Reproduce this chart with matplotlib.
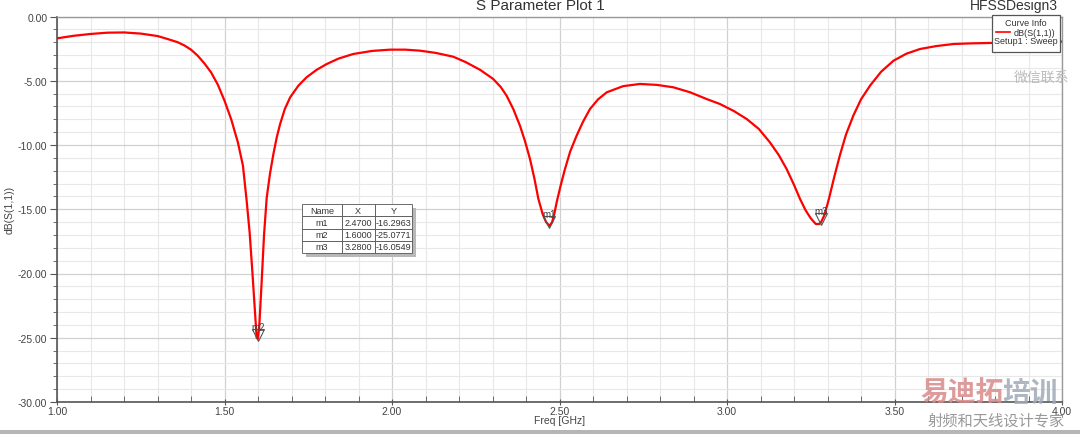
import matplotlib
matplotlib.use("Agg")
import matplotlib.pyplot as plt
import matplotlib.transforms as mtransforms
from matplotlib.patches import Rectangle
from matplotlib.ticker import MultipleLocator, FormatStrFormatter

plt.rcParams["font.family"] = ["Liberation Sans", "DejaVu Sans"]

# S11 trace
freq_ghz = [
    1.00, 1.05, 1.10, 1.15, 1.20, 1.25, 1.30, 1.33, 1.36, 1.38,
    1.40, 1.42, 1.44, 1.46, 1.48, 1.50, 1.52, 1.54, 1.555, 1.566,
    1.575, 1.583, 1.59, 1.596, 1.60, 1.604, 1.611, 1.618, 1.626, 1.636,
    1.646, 1.656, 1.666, 1.68, 1.696, 1.72, 1.745, 1.775, 1.805, 1.84,
    1.884, 1.94, 1.994, 2.04, 2.084, 2.13, 2.183, 2.22, 2.263, 2.302,
    2.325, 2.342, 2.362, 2.382, 2.397, 2.412, 2.425, 2.437, 2.45, 2.46,
    2.47, 2.478, 2.485, 2.492, 2.503, 2.516, 2.532, 2.551, 2.57, 2.591,
    2.615, 2.641, 2.69, 2.74, 2.79, 2.84, 2.89, 2.939, 2.979, 3.02,
    3.059, 3.095, 3.128, 3.155, 3.178, 3.20, 3.218, 3.235, 3.25, 3.265,
    3.275, 3.28, 3.29, 3.30, 3.307, 3.32, 3.337, 3.355, 3.377, 3.40,
    3.427, 3.46, 3.497, 3.535, 3.576, 3.625, 3.676, 3.73, 3.785, 3.85,
    3.90, 3.95, 4.00,
]
s11_db = [
    -1.70, -1.50, -1.36, -1.26, -1.24, -1.33, -1.52, -1.75, -2.00, -2.25,
    -2.58, -3.05, -3.65, -4.35, -5.30, -6.55, -8.00, -9.80, -11.6, -14.3,
    -16.8, -19.8, -22.6, -25.0, -25.08, -24.0, -20.6, -17.0, -14.1, -12.2,
    -10.7, -9.40, -8.37, -7.20, -6.29, -5.40, -4.73, -4.15, -3.70, -3.28,
    -2.92, -2.68, -2.58, -2.58, -2.66, -2.83, -3.13, -3.55, -4.15, -4.86,
    -5.50, -6.16, -7.20, -8.50, -9.70, -11.1, -12.6, -14.2, -15.4, -16.0,
    -16.30, -16.0, -15.3, -14.4, -13.2, -11.9, -10.5, -9.28, -8.20, -7.20,
    -6.45, -5.90, -5.42, -5.25, -5.32, -5.51, -5.90, -6.42, -6.81, -7.35,
    -7.98, -8.75, -9.79, -10.8, -11.87, -13.1, -14.2, -15.1, -15.7, -16.15,
    -16.15, -16.05, -15.5, -14.6, -13.9, -12.5, -10.8, -9.20, -7.72, -6.45,
    -5.38, -4.30, -3.44, -2.90, -2.53, -2.30, -2.14, -2.09, -2.06, -2.02,
    -1.99, -1.97, -1.95,
]

marker_names = ["m1", "m2", "m3"]
marker_x = [2.4700, 1.6000, 3.2800]
marker_y = [-16.2963, -25.0771, -16.0549]

W, H = 1080, 435
fig = plt.figure(figsize=(W / 100, H / 100), dpi=100)
ax = fig.add_axes([57 / W, 1 - 403 / H, (1062 - 57) / W, (403 - 17.5) / H])

ax.plot(freq_ghz, s11_db, color="#ff0000", linewidth=1.6, zorder=3)

ax.set_xlim(1.0, 4.0)
ax.set_ylim(-30, 0)
ax.xaxis.set_major_locator(MultipleLocator(0.5))
ax.xaxis.set_minor_locator(MultipleLocator(0.1))
ax.yaxis.set_major_locator(MultipleLocator(5))
ax.yaxis.set_minor_locator(MultipleLocator(1))
ax.xaxis.set_major_formatter(FormatStrFormatter("%.2f"))
ax.yaxis.set_major_formatter(FormatStrFormatter("%.2f"))
ax.grid(which="major", color="#d0d0d0", linewidth=0.9)
ax.grid(which="minor", color="#e8e8e8", linewidth=0.8)
ax.set_axisbelow(True)
ax.tick_params(which="both", colors="#555555", labelcolor="#444444", labelsize=7.5)
ax.tick_params(axis="y", which="major", length=5, direction="out", pad=2)
ax.tick_params(axis="y", which="minor", length=3, direction="out")
ax.tick_params(axis="x", which="major", length=4, direction="inout", pad=1)
ax.tick_params(axis="x", which="minor", length=4, direction="in")
for side in ["left", "bottom"]:
    ax.spines[side].set_color("#555555")
    ax.spines[side].set_linewidth(1.2)
for side in ["top", "right"]:
    ax.spines[side].set_color("#999999")
    ax.spines[side].set_linewidth(1.0)

ax.set_ylabel("dB(S(1,1))", fontsize=7.5, color="#444444", labelpad=2)
ax.xaxis.set_label_coords(0.5, -0.035)
ax.set_xlabel("Freq [GHz]", fontsize=7.5, color="#444444")

# markers: hollow triangle with the tip on the trace
tri_trans = mtransforms.offset_copy(ax.transData, fig=fig, x=0, y=4, units="dots")
lab_trans = mtransforms.offset_copy(ax.transData, fig=fig, x=0, y=12, units="dots")
for name, mx, my in zip(marker_names, marker_x, marker_y):
    ax.plot(mx, my, marker="v", markersize=8, markerfacecolor="none",
            markeredgecolor="#555555", markeredgewidth=0.8,
            transform=tri_trans, zorder=4)
    ax.text(mx, my, name, transform=lab_trans, ha="center", va="center",
            fontsize=7, color="#444444", zorder=4)

# marker table
cell_text = [[n, f"{x:.4f}", f"{y:.4f}"] for n, x, y in zip(marker_names, marker_x, marker_y)]
tx0, ty0, tw, th = (302 - 57) / 1005, (403 - 254) / 385.5, 110 / 1005, 49 / 385.5
ax.add_patch(Rectangle((tx0 + 0.004, ty0 - 0.01), tw, th, transform=ax.transAxes,
                       facecolor="#b8b8b8", edgecolor="none", zorder=5))
tbl = ax.table(cellText=cell_text, colLabels=["Name", "X", "Y"],
               bbox=[tx0, ty0, tw, th], cellLoc="center",
               colWidths=[0.36, 0.3, 0.34])
tbl.auto_set_font_size(False)
tbl.set_fontsize(6.5)
tbl.set_zorder(6)
for cell in tbl.get_celld().values():
    cell.set_edgecolor("#555555")
    cell.set_linewidth(0.6)
    cell.set_facecolor("white")
    cell.get_text().set_color("#333333")

# legend box
fig.patches.append(Rectangle((992 / W, 1 - 53 / H), 68 / W, 37 / H, transform=fig.transFigure,
                             facecolor="white", edgecolor="#555555", linewidth=0.9, zorder=10))
fig.text(1026 / W, 1 - 23 / H, "Curve Info", fontsize=6.5, ha="center", va="center",
         color="#333333", zorder=11)
fig.lines.append(plt.Line2D([996 / W, 1010 / W], [1 - 33 / H, 1 - 33 / H], transform=fig.transFigure,
                            color="#ff0000", linewidth=1.2, zorder=11))
fig.text(1034 / W, 1 - 33 / H, "dB(S(1,1))", fontsize=6.5, ha="center", va="center",
         color="#333333", zorder=11)
fig.text(1026 / W, 1 - 41 / H, "Setup1 : Sweep", fontsize=6.5, ha="center", va="center",
         color="#333333", zorder=11)

fig.text(540 / W, 1 - 6 / H, "S Parameter Plot 1", fontsize=11, ha="center", va="center",
         color="#333333")
fig.text(1058 / W, 1 - 6 / H, "HFSSDesign3", fontsize=10, ha="right", va="center",
         color="#333333")

# watermark
cjk = ["Noto Sans CJK SC", "DejaVu Sans"]
fig.text(1042 / W, 1 - 78 / H, "微信联系", fontsize=10, ha="center", va="center",
         color="#bbbbbb", family=cjk)
fig.text(920 / W, 1 - 394 / H, "易迪拓", fontsize=20, ha="left", va="center",
         color="#d98a8a", alpha=0.85, family=cjk, weight="bold", zorder=12)
fig.text(1002 / W, 1 - 394 / H, "培训", fontsize=20, ha="left", va="center",
         color="#a0aab8", alpha=0.85, family=cjk, weight="bold", zorder=12)
fig.text(996 / W, 1 - 421 / H, "射频和天线设计专家", fontsize=11, ha="center", va="center",
         color="#999999", family=cjk, zorder=12)

fig.patches.append(Rectangle((0, 0), 1, 4 / H, transform=fig.transFigure,
                             facecolor="#b5b5b5", edgecolor="none"))

fig.savefig("out.png", dpi=100)
